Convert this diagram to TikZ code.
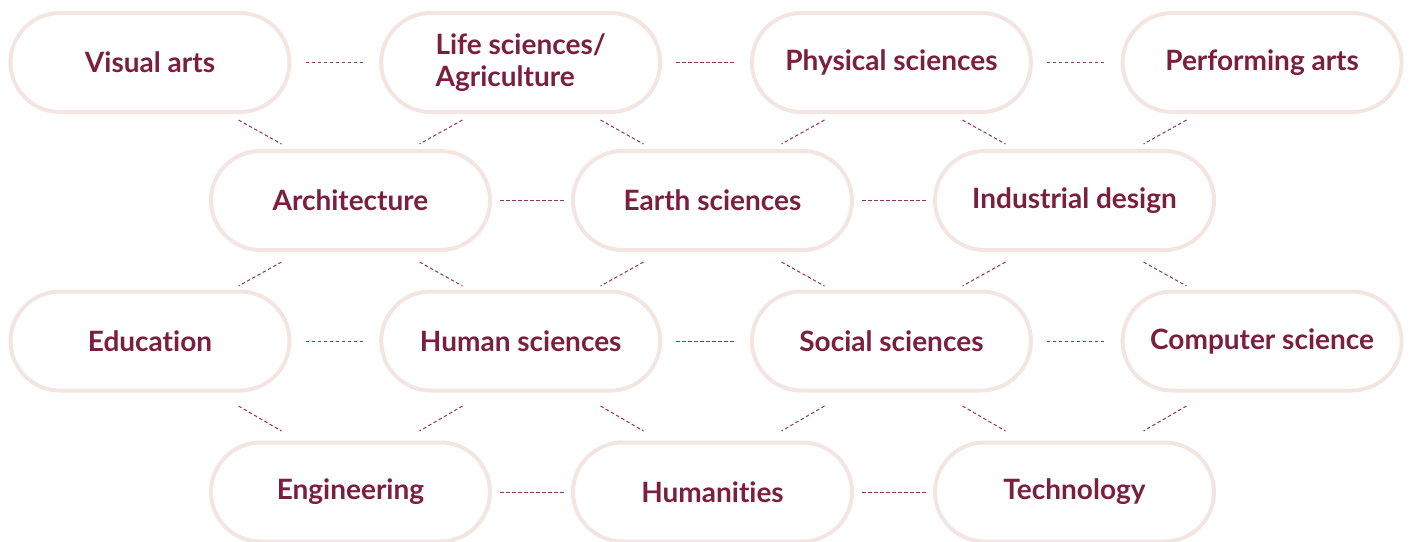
\documentclass[tikz,border=0pt]{standalone}
\usepackage{fontspec}
\setmainfont{Lato}[Ligatures=NoCommon]
\usetikzlibrary{calc}
\definecolor{wine}{HTML}{7A1F3D}
\definecolor{blush}{HTML}{F3E6E2}
\definecolor{dashwine}{HTML}{93355A}

\begin{document}
\begin{tikzpicture}[
		x=1pt, y=-1pt,
		node distance=370.7pt,
		every node/.style={draw=blush, line width=4pt, rounded corners=49.5pt, minimum width=279pt, minimum height=99pt, align=left, text=wine, font=\fontsize{28}{32}\selectfont\bfseries},
		link/.style={draw=dashwine, line width=1pt, dash pattern=on 3.5pt off 2.5pt}
		]
		\useasboundingbox (0,0) rectangle (1410,541);
		
		\node (va) at (150,62.5) {Visual arts};
		\node[right of=va] (ls) {Life sciences/\\Agriculture};
		\node[right of=ls] (ps) {Physical sciences};
		\node[right of=ps] (pa) {Performing arts};
		
		\node (arch) at (350.5,200.5) {Architecture};
		\node[right of=arch, node distance=362pt] (es) {Earth sciences};
		\node[right of=es, node distance=362pt] (id) {Industrial design};
		
		\node (edu) at (150,341) {Education};
		\node[right of=edu] (hs) {Human sciences};
		\node[right of=hs] (ss) {Social sciences};
		\node[right of=ss] (cs) {Computer science};
		
		\node (eng) at (350.5,492) {Engineering};
		\node[right of=eng, node distance=362pt] (hum) {Humanities};
		\node[right of=hum, node distance=362pt] (tech) {Technology};
		
		% side links
		\draw[link, shorten <=14pt, shorten >=14pt] (va) -- (ls);
		\draw[link, shorten <=14pt, shorten >=14pt] (ls) -- (ps);
		\draw[link, shorten <=14pt, shorten >=14pt] (ps) -- (pa);
		\draw[link, shorten <=8pt, shorten >=6pt] (arch) -- (es);
		\draw[link, shorten <=8pt, shorten >=6pt] (es) -- (id);
		\draw[link, shorten <=14pt, shorten >=14pt] (edu) -- (hs);
		\draw[link, shorten <=14pt, shorten >=14pt] (hs) -- (ss);
		\draw[link, shorten <=14pt, shorten >=14pt] (ss) -- (cs);
		\draw[link, shorten <=8pt, shorten >=6pt] (eng) -- (hum);
		\draw[link, shorten <=8pt, shorten >=6pt] (hum) -- (tech);
		
		% first row to second row
		\draw[link] ($(va.south -| arch)+(-112,6)$) -- ($(arch.north)+(-69,-5)$);
		\draw[link] ($(ls.south -| arch)+(112,6)$) -- ($(arch.north)+(69,-5)$);
		\draw[link] ($(ls.south -| es)+(-112,6)$) -- ($(es.north)+(-69,-5)$);
		\draw[link] ($(ps.south -| es)+(112,6)$) -- ($(es.north)+(69,-5)$);
		\draw[link] ($(ps.south -| id)+(-112,6)$) -- ($(id.north)+(-69,-5)$);
		\draw[link] ($(pa.south -| id)+(112,6)$) -- ($(id.north)+(69,-5)$);
		
		% second row to third row
		\draw[link] ($(arch.south)+(-69,10)$) -- ($(edu.north -| arch)+(-112,-3.5)$);
		\draw[link] ($(arch.south)+(69,10)$) -- ($(hs.north -| arch)+(112,-3.5)$);
		\draw[link] ($(es.south)+(-69,10)$) -- ($(hs.north -| es)+(-112,-3.5)$);
		\draw[link] ($(es.south)+(69,10)$) -- ($(ss.north -| es)+(112,-3.5)$);
		\draw[link] ($(id.south)+(-69,10)$) -- ($(ss.north -| id)+(-112,-3.5)$);
		\draw[link] ($(id.south)+(69,10)$) -- ($(cs.north -| id)+(112,-3.5)$);
		
		% third row to fourth row
		\draw[link] ($(edu.south -| eng)+(-112,13.5)$) -- ($(eng.north)+(-69,-9.5)$);
		\draw[link] ($(hs.south -| eng)+(112,13.5)$) -- ($(eng.north)+(69,-9.5)$);
		\draw[link] ($(hs.south -| hum)+(-112,13.5)$) -- ($(hum.north)+(-69,-9.5)$);
		\draw[link] ($(ss.south -| hum)+(112,13.5)$) -- ($(hum.north)+(69,-9.5)$);
		\draw[link] ($(ss.south -| tech)+(-112,13.5)$) -- ($(tech.north)+(-69,-9.5)$);
		\draw[link] ($(cs.south -| tech)+(112,13.5)$) -- ($(tech.north)+(69,-9.5)$);
	\end{tikzpicture}
\end{document}
